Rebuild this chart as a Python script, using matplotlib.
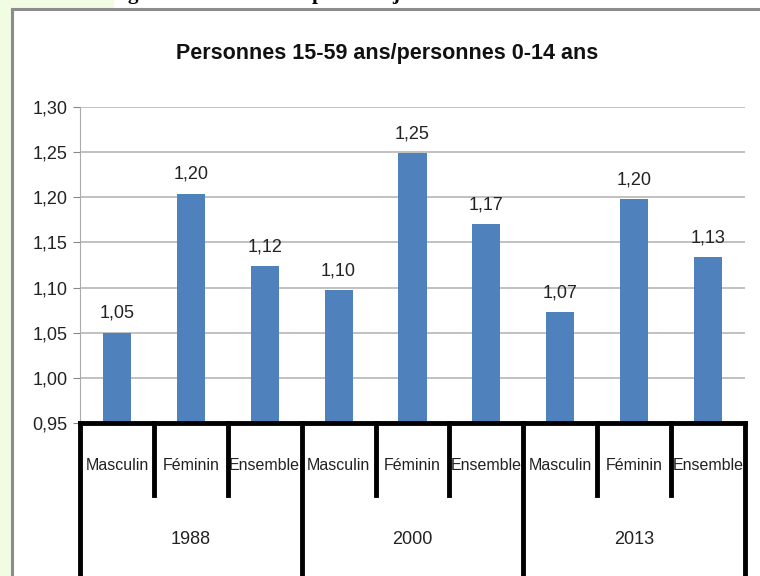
import matplotlib.pyplot as plt
from matplotlib.patches import Rectangle
from matplotlib.lines import Line2D
import matplotlib.transforms as mtransforms

plt.rcParams["font.family"] = ["Liberation Sans", "DejaVu Sans"]

# data
years = ["1988", "2000", "2013"]
sexes = ["Masculin", "Féminin", "Ensemble"]
ratio = [1.050, 1.204, 1.124, 1.097, 1.249, 1.170, 1.073, 1.198, 1.134]
yticks = [0.95, 1.00, 1.05, 1.10, 1.15, 1.20, 1.25, 1.30]

BLUE = "#4F81BD"
GREEN = "#F1FCE3"

fig = plt.figure(figsize=(7.6, 5.76), dpi=100)
W, H = 760, 576

# page background: green margin + chart frame
fig.patches.append(Rectangle((0, 0), 12 / W, 1, transform=fig.transFigure,
                             color=GREEN, zorder=0))
fig.patches.append(Rectangle((0, 1 - 9 / H), 113 / W, 9 / H, transform=fig.transFigure,
                             color=GREEN, zorder=0))
fig.lines.append(Line2D([12 / W, 12 / W], [0, 1 - 9 / H], transform=fig.transFigure,
                        color="#8c8c8c", lw=2.2))
fig.lines.append(Line2D([12 / W, 1], [1 - 9 / H, 1 - 9 / H], transform=fig.transFigure,
                        color="#8c8c8c", lw=2.2))

# descenders of the cut-off heading above the chart
for ch, px in [("g", 133), ("p", 318), ("j", 396)]:
    fig.text(px / W, 1 + 1 / H, ch, fontsize=15, fontweight="bold",
             family=["Liberation Serif", "DejaVu Serif"], ha="center", va="baseline")

ax = fig.add_axes([80 / W, 1 - 423 / H, 665 / W, 316 / H])
x = list(range(len(ratio)))
ax.bar(x, ratio, width=0.38, color=BLUE, zorder=3)

for xi, v in zip(x, ratio):
    ax.text(xi, v + 0.012, f"{v:.2f}".replace(".", ","), ha="center", va="bottom",
            fontsize=13, color="#222222")

ax.set_xlim(-0.5, len(ratio) - 0.5)
ax.set_ylim(0.95, 1.30)
ax.set_yticks(yticks)
ax.set_yticklabels([f"{t:.2f}".replace(".", ",") for t in yticks], fontsize=13)
ax.yaxis.grid(True, color="#b0b0b0", lw=1.1, zorder=0)
ax.set_xticks([])
ax.tick_params(axis="y", length=5, color="#888888", pad=4, labelcolor="#222222")
for side in ["top", "right", "bottom"]:
    ax.spines[side].set_visible(False)
ax.spines["left"].set_color("#aaaaaa")

fig.text(387 / W, 1 - 53 / H, "Personnes 15-59 ans/personnes 0-14 ans", fontsize=15.5,
         fontweight="bold", color="#111111", ha="center", va="center")

# multi-level category axis
trans = mtransforms.blended_transform_factory(ax.transData, ax.transAxes)
ax.plot([-0.5, len(ratio) - 0.5], [0, 0], transform=trans, color="black", lw=3.5,
        clip_on=False, solid_capstyle="projecting", zorder=5)
for i in range(len(ratio) + 1):
    b = i - 0.5
    low = -0.55 if i % 3 == 0 else -0.228
    ax.plot([b, b], [0, low], transform=trans, color="black", lw=3.5, clip_on=False,
            zorder=5)

for i in range(len(ratio)):
    ax.text(i, -0.133, sexes[i % 3], transform=trans, ha="center", va="center",
            fontsize=11.5, color="#222222")
for g, yr in enumerate(years):
    ax.text(g * 3 + 1, -0.37, yr, transform=trans, ha="center", va="center",
            fontsize=13, color="#222222")

fig.savefig("out.png", dpi=100)
